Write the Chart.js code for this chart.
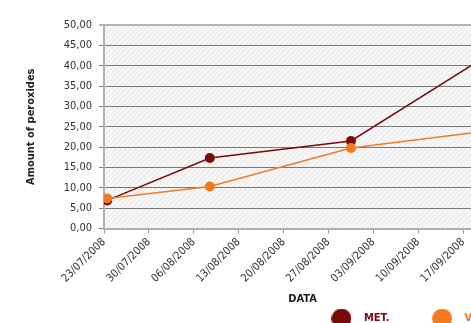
<!DOCTYPE html>
<html>
<head>
<meta charset="utf-8">
<script src="https://cdn.jsdelivr.net/npm/chart.js@4.4.1/dist/chart.umd.min.js"></script>
<style>
  html, body { margin: 0; padding: 0; background: #fff; overflow: hidden; }
  #wrap { position: relative; width: 511px; height: 334px; }
</style>
</head>
<body>
<div id="wrap"><canvas id="peroxides"></canvas></div>
<script>
// PEROXIDES OVER TIME

const dates = ["23/07/2008", "08/08/2008", "30/08/2008", "25/09/2008"];
const metValues = [6.9, 17.3, 21.5, 47.2];
const vitValues = [7.4, 10.3, 19.8, 24.9];
const seriesNames = ["MET.", "VIT. E"];
const tickDates = ["23/07/2008", "30/07/2008", "06/08/2008", "13/08/2008", "20/08/2008",
                   "27/08/2008", "03/09/2008", "10/09/2008", "17/09/2008"];

const FONT = "'Liberation Sans Narrow', 'DejaVu Sans Condensed', sans-serif";
Chart.defaults.font.family = FONT;

// days since the first tick date
function dayOf(s) {
    const [d, m, y] = s.split("/").map(Number);
    const [d0, m0, y0] = tickDates[0].split("/").map(Number);
    return (Date.UTC(y, m - 1, d) - Date.UTC(y0, m0 - 1, d0)) / 864e5;
}

// excel puts each date in the middle of its day
const points = (vals) => dates.map((d, i) => ({ x: dayOf(d) + 0.5, y: vals[i] }));

// fundo riscado da area do grafico
function hatchTile() {
    const c = document.createElement("canvas");
    c.width = 5;
    c.height = 5;
    const g = c.getContext("2d");
    g.fillStyle = "#f7f7f7";
    g.fillRect(0, 0, 5, 5);
    g.strokeStyle = "#e6e6e6";
    g.beginPath();
    g.moveTo(0, 5);
    g.lineTo(5, 0);
    g.stroke();
    return c;
}

// bolinha grande da legenda
function dot(color) {
    const c = document.createElement("canvas");
    c.width = 20;
    c.height = 20;
    const g = c.getContext("2d");
    g.fillStyle = color;
    g.beginPath();
    g.arc(10, 10, 10, 0, Math.PI * 2);
    g.fill();
    return c;
}

const plotBackground = {
    id: "plotBackground",
    beforeDraw(chart) {
        const { ctx, chartArea: a } = chart;
        ctx.save();
        ctx.fillStyle = ctx.createPattern(hatchTile(), "repeat");
        ctx.fillRect(a.left, a.top, a.right - a.left, a.bottom - a.top);
        ctx.restore();
    },
};

const MET_COLOR = "#7a0a0a";
const VIT_COLOR = "#f47a20";

new Chart(document.getElementById("peroxides"), {
    type: "line",
    data: {
        datasets: [
            {
                label: seriesNames[0],
                data: points(metValues),
                borderColor: MET_COLOR,
                backgroundColor: MET_COLOR,
                borderWidth: 1.5,
                pointRadius: 5,
                pointBorderWidth: 0,
                order: 1,
            },
            {
                label: seriesNames[1],
                data: points(vitValues),
                borderColor: VIT_COLOR,
                backgroundColor: VIT_COLOR,
                borderWidth: 1.5,
                pointRadius: 5,
                pointBorderWidth: 0,
                order: 0,
            },
        ],
    },
    options: {
        responsive: true,
        maintainAspectRatio: false,
        animation: false,
        layout: { padding: { top: 25, right: 10, bottom: 0, left: 0 } },
        plugins: {
            legend: {
                position: "bottom",
                align: "end",
                labels: {
                    usePointStyle: true,
                    pointStyleWidth: 34,
                    padding: 6,
                    font: { size: 11, weight: "bold" },
                    generateLabels: (chart) =>
                        chart.data.datasets.map((ds, i) => ({
                            text: i === 0 ? ds.label + "\u2003\u2003\u2003" : ds.label,
                            fillStyle: ds.borderColor,
                            strokeStyle: ds.borderColor,
                            lineWidth: 0,
                            pointStyle: dot(ds.borderColor),
                            fontColor: ds.borderColor,
                            datasetIndex: i,
                            hidden: false,
                        })),
                },
            },
            tooltip: { enabled: false },
        },
        scales: {
            x: {
                type: "linear",
                min: 0,
                max: 61.9,
                afterBuildTicks: (s) => {
                    s.ticks = tickDates.map((d) => ({ value: dayOf(d) }));
                },
                afterFit: (s) => {
                    s.height = 78.5;
                },
                ticks: {
                    autoSkip: false,
                    callback: (v, i) => tickDates[i],
                    minRotation: 45,
                    maxRotation: 45,
                    color: "#333",
                    font: { size: 11 },
                    padding: 2,
                },
                grid: { drawOnChartArea: false, tickLength: 5, color: "#9a9a9a" },
                border: { color: "#b0b0b0", width: 2 },
                title: {
                    display: true,
                    text: "DATA",
                    color: "#222",
                    font: { size: 11, weight: "bold" },
                    padding: { top: 4, bottom: 1 },
                },
            },
            y: {
                min: 0,
                max: 50,
                afterFit: (s) => {
                    s.width = 104;
                },
                ticks: {
                    stepSize: 5,
                    callback: (v) => v.toFixed(2).replace(".", ","),
                    color: "#333",
                    font: { size: 11 },
                    padding: 7,
                },
                grid: {
                    color: (c) => (c.tick.value === 50 ? "#b5b5b5" : "#7a7a7a"),
                    lineWidth: (c) => (c.tick.value === 50 ? 2 : 1),
                    tickLength: 5,
                },
                border: { color: "#b0b0b0", width: 2 },
                title: {
                    display: true,
                    text: "Amount of peroxides",
                    color: "#222",
                    font: { size: 11, weight: "bold" },
                    padding: { top: 25, bottom: 0 },
                },
            },
        },
    },
    plugins: [plotBackground],
});
</script>
</body>
</html>
